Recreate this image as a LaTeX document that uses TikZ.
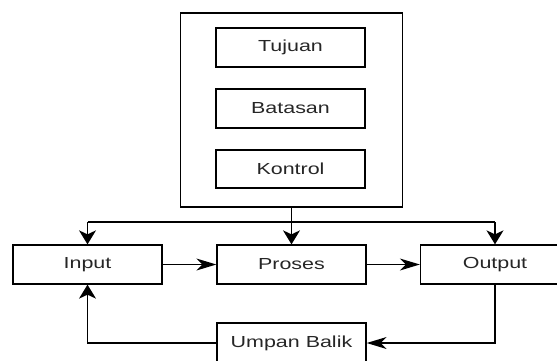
\documentclass[tikz,border=0pt]{standalone}
\usepackage{fontspec}
\setmainfont{Liberation Sans}[FakeStretch=1.34]
\usetikzlibrary{arrows.meta}
\begin{document}
\begin{tikzpicture}[x=1pt,y=-1pt,
  box/.style={draw=black, line width=1.3pt, minimum width=149pt, minimum height=39pt, inner sep=0pt, font=\fontsize{16pt}{19pt}\selectfont, text=black!85},
  ln/.style={draw=black, line width=1.3pt},
  harr/.style={ln, -{Stealth[length=20pt,width=12pt,inset=6pt]}},
  varr/.style={ln, -{Stealth[length=14pt,width=17pt,inset=4pt]}}]
\useasboundingbox (0,0) rectangle (557,360);
\clip (0,0) rectangle (557,360);
\node[draw=black, line width=1.3pt, minimum width=222pt, minimum height=194pt, inner sep=0pt] (outer) at (291.5,110) {};
\node[box] (tujuan) at (290.5,47.5) {Tujuan};
\node[box] (batasan) at (290.5,108.5) {Batasan};
\node[box, minimum height=38pt] (kontrol) at (290.5,169) {Kontrol};
\node[box] (input) at (87.5,264.5) {Input};
\node[box] (proses) at (291.5,264.5) {Proses};
\node[box] (output) at (495,264.5) {Output};
\node[box, minimum height=40pt] (umpan) at (291.5,343) {Umpan Balik};
\coordinate (jl) at (87.5,222);
\coordinate (jr) at (495,222);
\draw[ln] (jl) -- (jr);
\draw[varr] (outer.south) -- (proses.north);
\draw[varr] (jl) -- (input.north);
\draw[varr] (jr) -- (output.north);
\draw[harr] (input.east) -- (proses.west);
\draw[harr] (proses.east) -- (output.west);
\draw[harr] (output.south) |- (umpan.east);
\draw[varr] (umpan.west) -| (input.south);
\end{tikzpicture}
\end{document}
